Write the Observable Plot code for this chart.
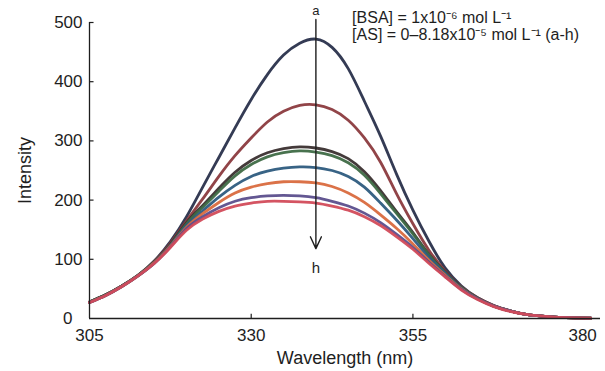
<!DOCTYPE html>
<html><head><meta charset="utf-8">
<script src="https://cdn.jsdelivr.net/npm/d3@7"></script>
<script src="https://cdn.jsdelivr.net/npm/@observablehq/plot@0.6"></script>
<style>
body{margin:0;background:#fff;}
#chart{position:relative;width:605px;height:371px;}
</style>
</head><body><div id="chart"></div>
<script>
const wavelengths = [305,307.5,310,312.5,315,317.5,320,322.5,325,327.5,330,332.5,335,337.5,340,342.5,345,347.5,350,352.5,355,357.5,360,362.5,365,367.5,370,372.5,375,377.5,380,382.5];
const seriesNames = ["a","b","c","d","e","f","g","h"];
const seriesColors = ["#29304b","#8b3a3e","#3a2f2f","#3e6a45","#2d5b7e","#d96a3e","#5b4e8c","#d24b5a"];
const intensityA = [28,40,55,73,97,130,172,222,272,322,370,412,445,465,472,458,422,367,308,243,183,130,85,55,35,22,13,7,4,2,1,0.5];
const intensityB = [28,40,55,73,96,127,165,202,240,275,305,332,350,360,361,353,335,305,264,210,160,115,80,53,35,22,13,7,4,2,1,0.5];
const intensityC = [28,40,55,73,95,125,162,191,220,247,267,280,287,290,288,282,270,248,216,180,145,108,78,52,34,21,13,7,4,2,1,0.5];
const intensityD = [28,40,55,73,95,124,160,188,215,241,260,273,280,283,281,275,263,242,211,177,143,107,77,52,34,21,13,7,4,2,1,0.5];
const intensityE = [27,39,54,72,94,123,157,182,205,225,240,249,254,256,255,250,240,222,195,166,135,103,76,51,34,21,13,7,4,2,1,0.5];
const intensityF = [27,39,54,72,94,122,154,177,196,212,222,228,231,231,229,223,212,196,175,152,126,98,73,50,33,21,13,7,4,2,1,0.5];
const intensityG = [27,39,54,72,93,121,152,172,187,198,204,207,208,207,204,198,190,178,162,142,120,95,71,49,33,21,13,7,4,2,1,0.5];
const intensityH = [27,39,54,72,93,120,149,168,181,190,195,198,198,197,195,190,183,172,157,138,117,93,70,48,32,20,12,7,4,2,1,0.5];
const seriesValues = [intensityA,intensityB,intensityC,intensityD,intensityE,intensityF,intensityG,intensityH];
const xTicks = [305,330,355,380];
const yTicks = [0,100,200,300,400,500];
const xLabel = "Wavelength (nm)";
const yLabel = "Intensity";
const noteLines = ["[BSA] = 1x10\u207B\u2076 mol L\u207B\u00B9", "[AS] = 0\u20138.18x10\u207B\u2075 mol L\u207B\u00B9 (a-h)"];
const noteY = [508, 479];
const arrowAt = [{x:340, from:505, to:118, top:"a", bottom:"h"}];

const rows = [];
seriesNames.forEach((s, i) => wavelengths.forEach((w, j) => rows.push({series: s, wl: w, I: seriesValues[i][j]})));

const font = "Liberation Sans, Arial, Helvetica, sans-serif";
const ink = "#1e1e1e";
const xMin = xTicks[0];

const chart = Plot.plot({
  width: 605, height: 371,
  marginLeft: 89, marginRight: 5, marginTop: 22, marginBottom: 53,
  style: {fontFamily: font, background: "#fff", color: ink, overflow: "visible"},
  x: {domain: [305, 384]},
  y: {domain: [0, 500]},
  color: {domain: seriesNames, range: seriesColors},
  marks: [
    Plot.line(rows, {x: "wl", y: "I", z: "series", stroke: "series", strokeWidth: 2.8, curve: "natural", strokeOpacity: 0.95}),
    Plot.ruleY([0], {stroke: ink, strokeWidth: 1.3}),
    Plot.ruleX([xMin], {y1: 0, y2: 500, stroke: ink, strokeWidth: 1.3}),
    Plot.ruleY(yTicks.slice(1), {x1: xMin, x2: xMin + 0.7, stroke: ink, strokeWidth: 1.2}),
    Plot.ruleX(xTicks.slice(1, 3), {y1: 0, y2: 7, stroke: ink, strokeWidth: 1.2}),
    Plot.axisY({ticks: yTicks.slice(1), tickSize: 0, tickPadding: 7, fontSize: 17, label: yLabel, labelAnchor: "center", labelArrow: "none", labelOffset: 71}),
    Plot.axisY({ticks: yTicks.slice(0, 1), tickSize: 0, tickPadding: 17, fontSize: 17, label: null}),
    Plot.axisX({ticks: xTicks.slice(0, 3), tickSize: 0, tickPadding: 10, fontSize: 17, label: xLabel, labelAnchor: "center", labelArrow: "none", labelOffset: 45}),
    Plot.axisX({ticks: xTicks.slice(3), tickSize: 0, tickPadding: 10, fontSize: 17, dx: 8, label: null}),
    Plot.arrow(arrowAt, {x: "x", y1: "from", y2: "to", stroke: ink, strokeWidth: 1.4, headLength: 14, headAngle: 50}),
    Plot.text(arrowAt, {x: "x", y: "from", text: "top", dy: -9, fontSize: 13, fill: ink}),
    Plot.text(arrowAt, {x: "x", y: "to", text: "bottom", dy: 20, fontSize: 15, fill: ink}),
    Plot.text(noteLines, {x: arrowAt[0].x + 5.6, y: noteY, text: d => d, textAnchor: "start", fontSize: 16, fill: ink})
  ]
});
chart.querySelectorAll("[aria-label='y-axis label'] text, [aria-label='x-axis label'] text").forEach(t => t.setAttribute("font-size", "18"));
document.getElementById("chart").append(chart);
</script>
</body></html>
